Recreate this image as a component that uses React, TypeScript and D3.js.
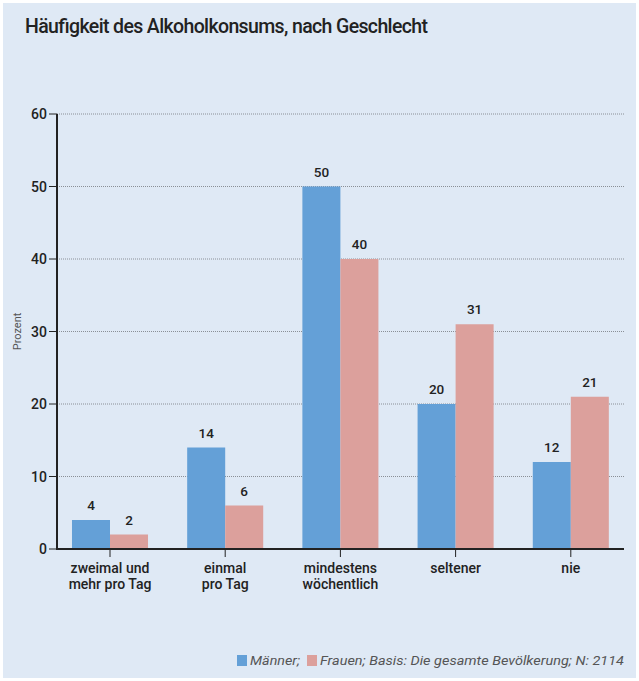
import React from "react";
import * as d3 from "d3";

const categories = [["zweimal und", "mehr pro Tag"], ["einmal", "pro Tag"], ["mindestens", "wöchentlich"], ["seltener"], ["nie"]];
const maenner = [4, 14, 50, 20, 12];
const frauen = [2, 6, 40, 31, 21];
const yTicks = [0, 10, 20, 30, 40, 50, 60];
const seriesNames = ["Männer", "Frauen"];

const W = 639;
const H = 681;
const BLUE = "#64a0d7";
const PINK = "#dca09c";
const FONT = "Roboto, 'Noto Sans', sans-serif";

const App = () => {
  const y = d3.scaleLinear().domain([0, 60]).range([549, 114]);
  const x = d3
    .scaleBand()
    .domain(categories.map((_, i) => String(i)))
    .range([52.4, 628.4])
    .paddingInner(0.34)
    .paddingOuter(0.17);
  const inner = d3.scaleBand().domain(seriesNames).range([0, x.bandwidth()]);
  const axisX = 57;
  const axisRight = 624;

  return (
    <svg width={W} height={H} style={{ display: "block", position: "absolute", left: 0, top: 0 }}>
      <rect x={0} y={0} width={W} height={H} fill="#ffffff" />
      <rect x={3} y={3} width={W - 6} height={H - 6} fill="#dfe9f5" />
      <text x={25} y={33} fontFamily={FONT} fontSize={19.5} fontWeight={500} fill="#222" textLength={403} lengthAdjust="spacing">
        Häufigkeit des Alkoholkonsums, nach Geschlecht
      </text>

      {/* grid */}
      {yTicks.filter((t) => t > 0).map((t) => (
        <line key={t} x1={axisX} x2={axisRight} y1={y(t)} y2={y(t)} stroke="#8a8f96" strokeWidth={1} strokeDasharray="1,1" />
      ))}

      {/* bars */}
      {categories.map((_, i) => {
        const x0 = x(String(i))!;
        const vals = [maenner[i], frauen[i]];
        return (
          <g key={i}>
            {vals.map((v, j) => (
              <g key={j}>
                <rect
                  x={x0 + inner(seriesNames[j])!}
                  y={y(v)}
                  width={inner.bandwidth()}
                  height={y(0) - y(v)}
                  fill={j === 0 ? BLUE : PINK}
                />
                <text
                  x={x0 + inner(seriesNames[j])! + inner.bandwidth() / 2}
                  y={y(v) - 10}
                  textAnchor="middle"
                  fontFamily={FONT}
                  fontSize={13.5}
                  fontWeight={500}
                  fill="#222"
                >
                  {v}
                </text>
              </g>
            ))}
          </g>
        );
      })}

      {/* y axis */}
      <line x1={axisX} x2={axisX} y1={y(60)} y2={y(0)} stroke="#222" strokeWidth={2} />
      {yTicks.map((t) => (
        <g key={t}>
          <line x1={axisX - 8} x2={axisX} y1={y(t)} y2={y(t)} stroke="#222" strokeWidth={1} />
          <text x={axisX - 10} y={y(t) + 5} textAnchor="end" fontFamily={FONT} fontSize={14} fontWeight={500} fill="#222">
            {t}
          </text>
        </g>
      ))}
      <text
        transform={`translate(21,${y(30)}) rotate(-90)`}
        textAnchor="middle"
        fontFamily={FONT}
        fontSize={11}
        fill="#555"
      >
        Prozent
      </text>

      {/* x axis */}
      <line x1={axisX - 1} x2={axisRight} y1={y(0)} y2={y(0)} stroke="#222" strokeWidth={2} />
      {categories.map((lines, i) => {
        const cx = x(String(i))! + x.bandwidth() / 2;
        return (
          <g key={i}>
            <line x1={cx} x2={cx} y1={y(0)} y2={y(0) + 8} stroke="#222" strokeWidth={1} />
            {lines.map((l, k) => (
              <text key={k} x={cx} y={573 + k * 16} textAnchor="middle" fontFamily={FONT} fontSize={14} fontWeight={500} fill="#222">
                {l}
              </text>
            ))}
          </g>
        );
      })}

      {/* legend */}
      <g fontFamily={FONT} fontSize={13.5} fontStyle="italic" fill="#555">
        <rect x={237} y={655} width={10} height={11} fill={BLUE} />
        <text x={250} y={665} textLength={50} lengthAdjust="spacingAndGlyphs">Männer;</text>
        <rect x={307} y={655} width={10} height={11} fill={PINK} />
        <text x={320} y={665} textLength={304} lengthAdjust="spacingAndGlyphs">Frauen; Basis: Die gesamte Bevölkerung; N: 2114</text>
      </g>
    </svg>
  );
};

export default App;
